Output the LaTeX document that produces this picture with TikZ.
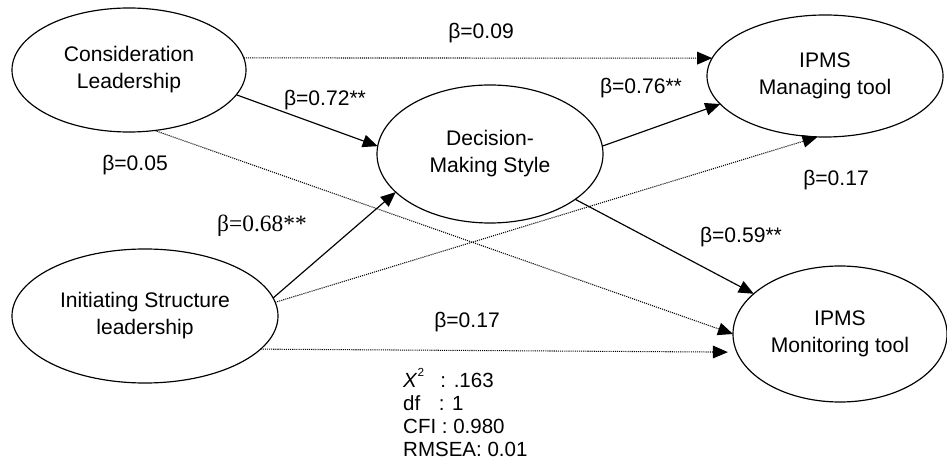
\documentclass[tikz,border=0pt]{standalone}
\usepackage{fontspec}
\setmainfont{Liberation Sans}
\newfontfamily\timesfont{Liberation Serif}
\usetikzlibrary{shapes.geometric,arrows.meta}

\begin{document}
\begin{tikzpicture}[
		x=0.03cm, y=-0.03cm,
		latent/.style={ellipse, draw=black, line width=1pt, align=center, inner sep=0pt, outer sep=0pt, font=\fontsize{18}{23}\selectfont},
		coef/.style={inner sep=0pt, font=\fontsize{18}{22}\selectfont},
		sig/.style={line width=1pt, -{Triangle[length=0.45cm, width=0.38cm]}},
		nsig/.style={line width=0.9pt, dash pattern=on 0.9pt off 0.9pt, -{Triangle[length=0.45cm, width=0.38cm]}}
		]
		\useasboundingbox (0,0) rectangle (947,459);
		
		\node (cons) [latent, minimum width=7.02cm, minimum height=3.72cm] at (129,70) {Consideration\\Leadership};
		\node (dms) [latent, minimum width=6.78cm, minimum height=4.14cm] at (490,154) {Decision-\\Making Style};
		\node (manage) [latent, minimum width=7.08cm, minimum height=3.66cm] at (825,76) {IPMS\\Managing tool};
		\node (isl) [latent, minimum width=7.98cm, minimum height=4.02cm] at (145,316) {Initiating Structure\\leadership};
		\node (monit) [latent, minimum width=6.42cm, minimum height=4.08cm] at (840,334) {IPMS\\Monitoring tool};
		
		\node (b09) [coef] at (481,33) {β=0.09};
		\node (b72) [coef] at (325,100) {β=0.72**};
		\node (b05) [coef] at (135,165) {β=0.05};
		\node (b68) [coef, font=\fontsize{20}{22}\timesfont] at (262,226) {β=0.68**};
		\node (b76) [coef] at (641,88) {β=0.76**};
		\node (b17a) [coef] at (836,180) {β=0.17};
		\node (b59) [coef] at (741,237) {β=0.59**};
		\node (b17b) [coef] at (467,322) {β=0.17};
		\node (fit) [coef, anchor=north west, align=left, font=\fontsize{17.5}{19.6}\selectfont] at (403,368)
			{\textit{X}\raisebox{0.55em}{\fontsize{10}{10}\selectfont 2}\hspace{0.8em}: .163\\df\hspace{0.9em}: 1\\CFI : 0.980\\RMSEA: 0.01};
		
		\draw[sig] (cons.-13) -- (dms.176);
		\draw[sig] (isl.8.6) -- (dms.-158.5);
		\draw[sig] (dms.4.5) -- (manage.-165);
		\draw[sig] (dms.-28.4) -- (monit.155.4);
		\draw[nsig] (cons.6) -- (manage.171);
		\draw[nsig] (cons.-67) -- (monit.180);
		\draw[nsig] (isl.6) -- (manage.-97.4);
		\draw[nsig, shorten >=0.27cm] (isl.-16.5) -- (monit.-170.7);
	\end{tikzpicture}
\end{document}
